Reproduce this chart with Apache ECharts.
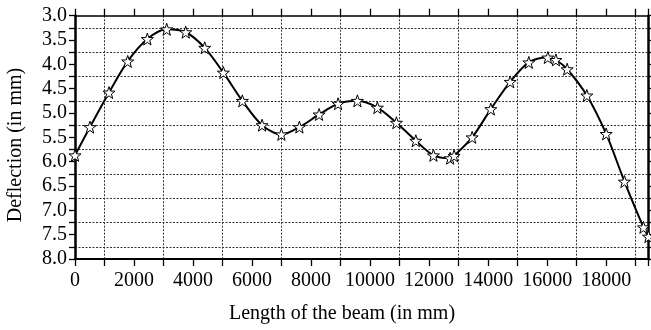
<!DOCTYPE html>
<html>
<head>
<meta charset="utf-8">
<script src="https://cdn.jsdelivr.net/npm/echarts@6/dist/echarts.min.js"></script>
<style>
html,body{margin:0;padding:0;background:#fff;}
#chart{width:651px;height:330px;}
</style>
</head>
<body>
<div id="chart"></div>
<script>
var xValues = [0, 508, 1153, 1786, 2451, 3107, 3752, 4396, 5028, 5671, 6339, 6994, 7604, 8271, 8915, 9570, 10247, 10892, 11549, 12146, 12712, 12847, 13458, 14091, 14746, 15379, 16024, 16295, 16678, 17345, 18000, 18620, 19264, 19434];
var yValues = [5.87, 5.29, 4.58, 3.94, 3.48, 3.28, 3.34, 3.66, 4.17, 4.75, 5.25, 5.44, 5.29, 5.03, 4.81, 4.75, 4.89, 5.20, 5.57, 5.87, 5.93, 5.88, 5.50, 4.92, 4.36, 3.96, 3.86, 3.91, 4.10, 4.64, 5.43, 6.41, 7.35, 7.54];
var xTitle = 'Length of the beam (in mm)';
var yTitle = 'Deflection (in mm)';
var xMin = 0, xMax = 19434, xStep = 2000;
var yMin = 3.0, yMax = 8.0, yStep = 0.5;

var data = xValues.map(function (x, i) { return [x, yValues[i]]; });
var FONT = '"Liberation Serif", "DejaVu Serif", serif';
var star = 'path://M50 0 L61.76 33.82 L97.55 34.55 L69.02 56.18 L79.39 90.45 L50 70 L20.61 90.45 L30.98 56.18 L2.45 34.55 L38.24 33.82 Z';
var grid = {color: '#333', width: 1, type: [2, 1.5]};

var chart = echarts.init(document.getElementById('chart'), null, {renderer: 'canvas'});
chart.setOption({
  animation: false,
  backgroundColor: '#fff',
  grid: {left: 75, right: 2.5, top: 15.7, bottom: 71, containLabel: false},
  xAxis: [{
    type: 'value', position: 'bottom', min: xMin, max: xMax, interval: xStep,
    axisLine: {show: true, lineStyle: {color: '#000', width: 2}},
    axisTick: {show: true, length: 7, lineStyle: {color: '#000', width: 1.3}},
    minorTick: {show: true, splitNumber: 2, length: 7, lineStyle: {color: '#000', width: 1.3}},
    splitLine: {show: false},
    minorSplitLine: {show: true, lineStyle: grid},
    axisLabel: {show: true, showMaxLabel: false, margin: 12, color: '#000', fontFamily: FONT, fontSize: 20,
      formatter: function (v) { return String(v); }}
  }, {
    type: 'value', position: 'top', min: xMin, max: xMax, interval: xStep,
    axisLine: {show: true, onZero: false, lineStyle: {color: '#000', width: 1.5}},
    axisTick: {show: true, length: 7, lineStyle: {color: '#000', width: 1.3}},
    minorTick: {show: true, splitNumber: 2, length: 7, lineStyle: {color: '#000', width: 1.3}},
    splitLine: {show: false},
    axisLabel: {show: false}
  }],
  yAxis: [{
    type: 'value', position: 'left', inverse: true, min: yMin, max: yMax, interval: yStep,
    axisLine: {show: true, lineStyle: {color: '#000', width: 2.5}},
    axisTick: {show: true, length: 6, lineStyle: {color: '#000', width: 1.3}},
    minorTick: {show: true, splitNumber: 2, length: 6, lineStyle: {color: '#000', width: 1.3}},
    splitLine: {show: false},
    minorSplitLine: {show: true, lineStyle: grid},
    axisLabel: {show: true, margin: 8, color: '#000', fontFamily: FONT, fontSize: 20,
      padding: [0, 0, 10, 0],
      formatter: function (v) { return v.toFixed(1); }}
  }, {
    type: 'value', position: 'right', inverse: true, min: yMin, max: yMax, interval: yStep,
    axisLine: {show: true, onZero: false, lineStyle: {color: '#000', width: 2.5}},
    axisTick: {show: true, length: 6, lineStyle: {color: '#000', width: 1.3}},
    minorTick: {show: true, splitNumber: 2, length: 6, lineStyle: {color: '#000', width: 1.3}},
    splitLine: {show: false},
    axisLabel: {show: false}
  }],
  graphic: [{
    type: 'text', left: 229, top: 304,
    style: {text: xTitle, fill: '#000', font: '20px ' + FONT}
  }, {
    type: 'text', x: 16, y: 145, rotation: Math.PI / 2,
    style: {text: yTitle, fill: '#000', font: '20px ' + FONT, align: 'center', verticalAlign: 'middle'}
  }],
  series: [{
    type: 'line', xAxisIndex: 0, yAxisIndex: 0, data: data,
    smooth: 0.3,
    lineStyle: {color: '#000', width: 2},
    symbol: star, symbolSize: 12,
    itemStyle: {color: '#fff', borderColor: '#000', borderWidth: 1},
    z: 5
  }]
});
</script>
</body>
</html>
